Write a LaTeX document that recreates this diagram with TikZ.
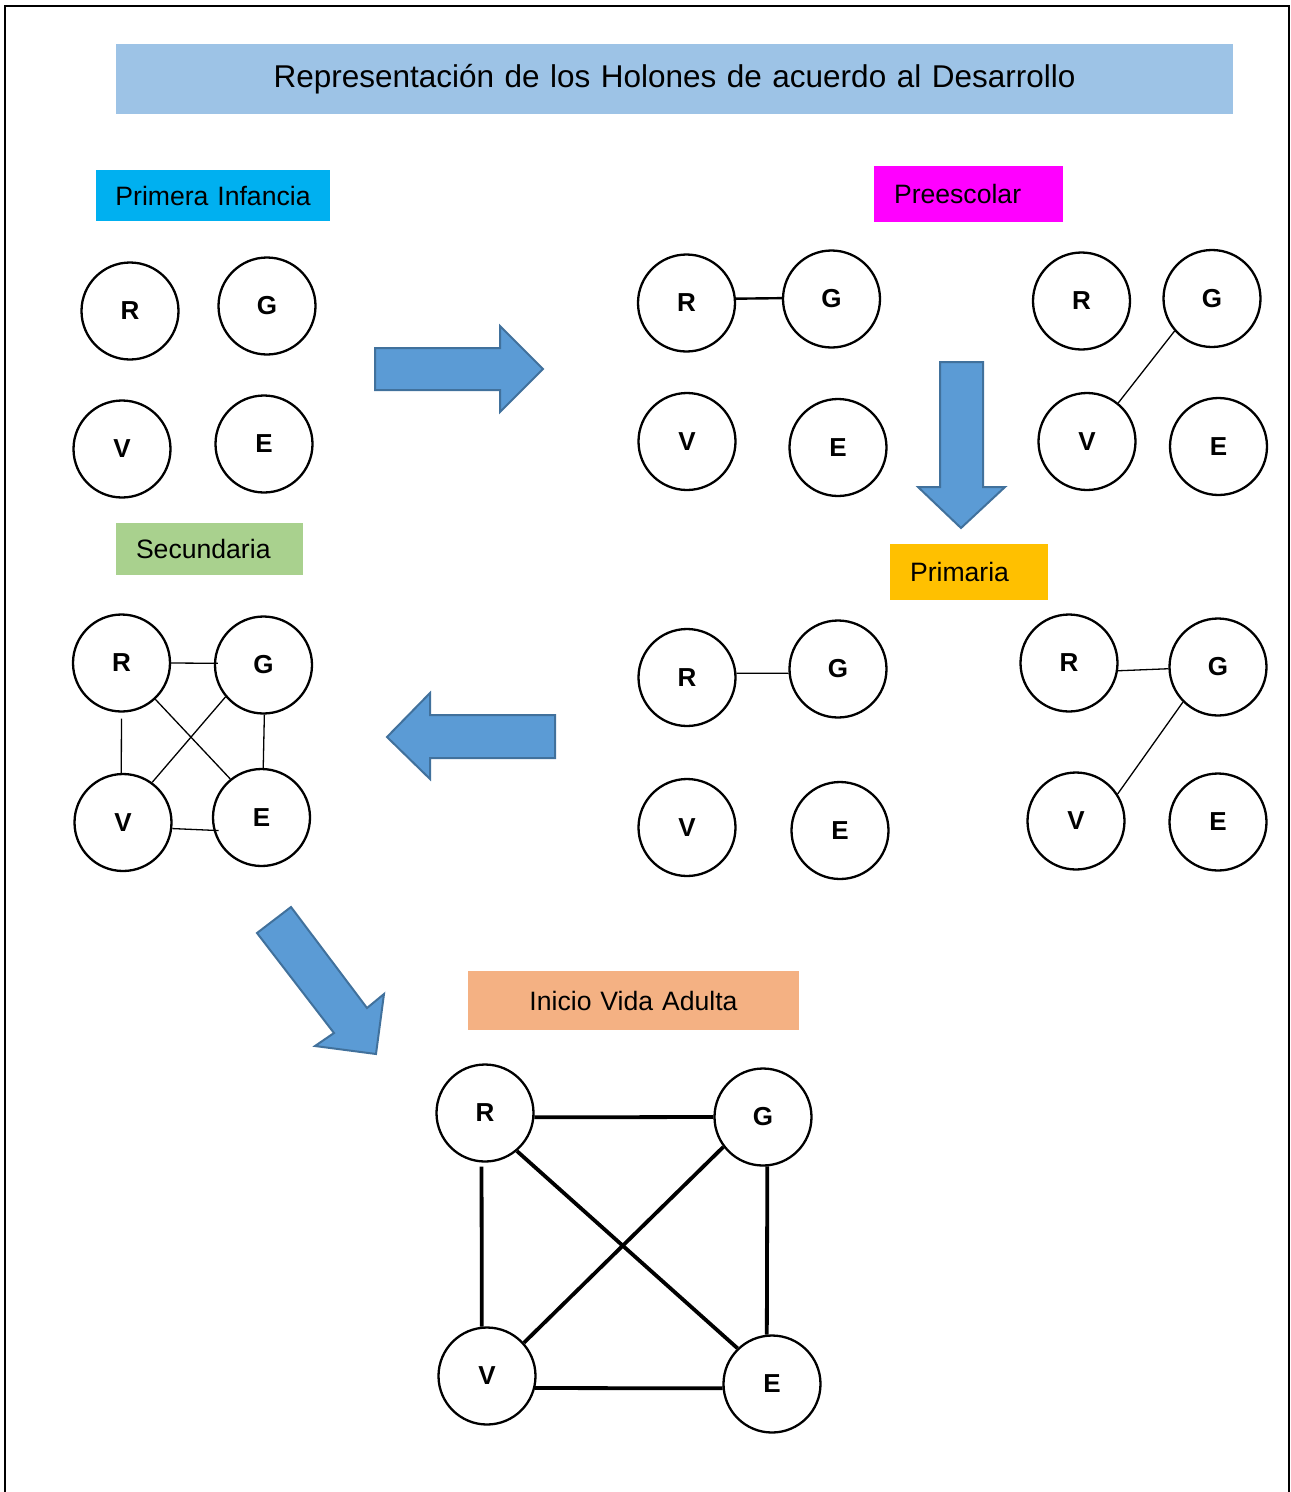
\documentclass[tikz,border=0pt]{standalone}
\usepackage{fontspec}
\setmainfont{Liberation Sans}
\definecolor{titleblue}{HTML}{9DC3E6}
\definecolor{cyanA}{HTML}{00B0F0}
\definecolor{magA}{HTML}{FF00FF}
\definecolor{greenA}{HTML}{A9D18E}
\definecolor{orangeA}{HTML}{FFC000}
\definecolor{salmonA}{HTML}{F4B183}
\definecolor{arrowfill}{HTML}{5B9BD5}
\definecolor{arrowline}{HTML}{41719C}
\begin{document}
\begin{tikzpicture}[x=1pt,y=-1pt,
  holon/.style={circle, draw, line width=2.3pt, minimum size=97pt, inner sep=0pt,
    font=\fontsize{26}{28}\selectfont\bfseries},
  lbl/.style={rectangle, inner xsep=20pt, inner ysep=0pt, font=\fontsize{26.6}{30}\selectfont},
  thinedge/.style={line width=1.3pt},
  midedge/.style={line width=2.4pt},
  thickedge/.style={line width=3.8pt},
  blockarrow/.style={fill=arrowfill, draw=arrowline, line width=2pt, line join=miter}
]
\useasboundingbox (0,0) rectangle (1291,1492);
% frame
\draw[line width=2pt] (5,1493) -- (5,6) -- (1289,6) -- (1289,1493);

% title and labels
\node[lbl, fill=titleblue, minimum width=1117pt, minimum height=70pt, text width=1077pt, align=center,
  font=\fontsize{31.5}{35}\selectfont] (title) at (674.5,79) {Representación de los Holones de acuerdo al Desarrollo};
\node[lbl, fill=cyanA, inner xsep=0pt, minimum width=234pt, minimum height=51pt, text width=234pt, align=center] (lpi) at (213,195.5) {Primera Infancia};
\node[lbl, fill=magA, minimum width=189pt, minimum height=56pt, text width=149pt, align=left] (lpre) at (968.5,194) {Preescolar};
\node[lbl, fill=greenA, minimum width=187pt, minimum height=52pt, text width=147pt, align=left] (lsec) at (209.5,549) {Secundaria};
\node[lbl, fill=orangeA, minimum width=158pt, minimum height=56pt, text width=118pt, align=left] (lpri) at (969,572) {Primaria};
\node[lbl, fill=salmonA, minimum width=331pt, minimum height=59pt, text width=291pt, align=center] (lva) at (633.5,1000.5) {Inicio Vida Adulta};

% Primera Infancia
\node[holon] (piR) at (130,311) {R};
\node[holon] (piG) at (267,306) {G};
\node[holon] (piV) at (122,449) {V};
\node[holon] (piE) at (264,444) {E};

% Preescolar 1
\node[holon] (p1R) at (686.5,303) {R};
\node[holon] (p1G) at (831.5,299) {G};
\node[holon] (p1V) at (687,441.5) {V};
\node[holon] (p1E) at (838,447.5) {E};
\draw[midedge] (p1R.5) -- (p1G.179);

% Preescolar 2
\node[holon] (p2R) at (1081.5,301) {R};
\node[holon] (p2G) at (1212,298.5) {G};
\node[holon] (p2V) at (1087,441.5) {V};
\node[holon] (p2E) at (1218.5,446.5) {E};
\draw[thinedge] (p2G.221) -- (p2V.51);

% Primaria 1
\node[holon] (q1R) at (687,677.5) {R};
\node[holon] (q1G) at (838,669) {G};
\node[holon] (q1V) at (687,827.5) {V};
\node[holon] (q1E) at (840,830.5) {E};
\draw[thinedge] (q1R.5) -- (q1G.185);

% Primaria 2
\node[holon] (q2R) at (1069,663) {R};
\node[holon] (q2G) at (1218,667) {G};
\node[holon] (q2V) at (1076,821) {V};
\node[holon] (q2E) at (1218,822) {E};
\draw[thinedge] (q2R.351) -- (q2G.182);
\draw[thinedge] (q2G.225) -- (q2V.33);

% Secundaria
\node[holon] (sR) at (121.5,663) {R};
\node[holon] (sG) at (263.5,665) {G};
\node[holon] (sV) at (123,822.5) {V};
\node[holon] (sE) at (261.5,817.5) {E};
\draw[thinedge, shorten >=-4pt] (sR.0) -- (sG.178);
\draw[thinedge, shorten <=6pt] (sR.270) -- (sV.92);
\draw[thinedge] (sG.271) -- (sE.88);
\draw[thinedge, shorten >=-5pt] (sV.353) -- (sE.195);
\draw[thinedge] (sR.313) -- (sE.129);
\draw[thinedge] (sG.220) -- (sV.54);

% Inicio Vida Adulta
\node[holon] (aR) at (485,1113) {R};
\node[holon] (aG) at (763,1117) {G};
\node[holon] (aV) at (487,1376) {V};
\node[holon] (aE) at (772,1384) {E};
\draw[thickedge] (aR.355) -- (aG.180);
\draw[thickedge, shorten <=4pt] (aR.266) -- (aV.96);
\draw[thickedge] (aG.275) -- (aE.96);
\draw[thickedge] (aV.346) -- (aE.185);
\draw[thickedge] (aR.310) -- (aE.134);
\draw[thickedge] (aG.217) -- (aV.42);

% block arrows
\draw[blockarrow] (375,348) -- (500,348) -- (500,326) -- (543,369) -- (500,412) -- (500,390) -- (375,390) -- cycle;
\draw[blockarrow] (940,362) -- (983,362) -- (983,487) -- (1005,487) -- (961,528) -- (918,487) -- (940,487) -- cycle;
\draw[blockarrow] (555,715) -- (430,715) -- (430,693) -- (387,737) -- (430,779) -- (430,758) -- (555,758) -- cycle;
\draw[blockarrow] (257,933) -- (291,907) -- (367,1008) -- (384,994) -- (376,1054) -- (315,1046) -- (334,1033) -- cycle;
\end{tikzpicture}
\end{document}
